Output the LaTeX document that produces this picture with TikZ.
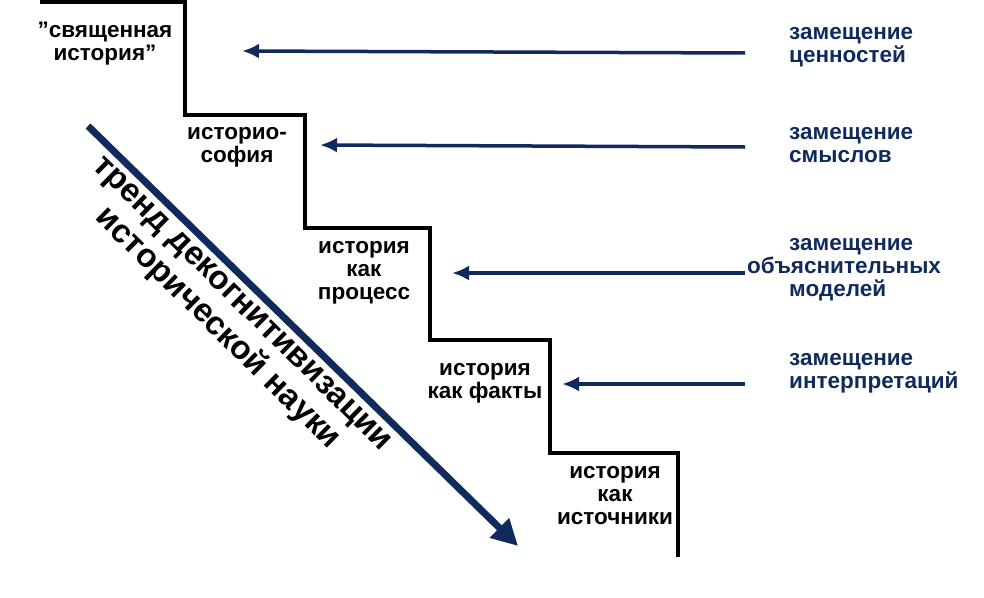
\documentclass[tikz,border=0pt]{standalone}
\usepackage{fontspec}
\setmainfont{Liberation Sans}
\usetikzlibrary{arrows.meta}
\definecolor{navy}{HTML}{102A5E}
\begin{document}
\begin{tikzpicture}[x=1pt,y=-1pt,
 lab/.style={font=\bfseries\fontsize{22.5}{23}\selectfont,align=center,inner sep=0pt},
 rlab/.style={font=\bfseries\fontsize{22.5}{23}\selectfont,align=left,inner sep=0pt,text=navy,anchor=west},
 arr/.style={navy,line width=3.5pt,-{Latex[length=17pt,width=15pt]}}]
\useasboundingbox (0,0) rectangle (984,597);
\draw[line width=3.5pt] (40,2) -- (185,2) -- (185,115) -- (305,115) -- (305,228) -- (430,228) -- (430,340) -- (550,340) -- (550,453) -- (678,453) -- (678,557);
\node[lab] (l1) at (105,44) {\char"22 священная\\история\char"22};
\node[lab] (l2) at (237,147) {историо-\\софия};
\node[lab] (l3) at (364,273) {история\\как\\процесс};
\node[lab] (l4) at (485,383) {история\\как факты};
\node[lab] (l5) at (615,496) {история\\как\\источники};
\node[rlab] (r1) at (789,47) {замещение\\ценностей};
\node[rlab] (r2) at (789,145) {замещение\\смыслов};
\node[rlab] (r3) at (747,270) {\hspace*{42pt}замещение\\объяснительных\\\hspace*{42pt}моделей};
\node[rlab] (r4) at (789,373) {замещение\\интерпретаций};
\coordinate (a1s) at (745,53); \coordinate (a1e) at (242,51);
\coordinate (a2s) at (745,147); \coordinate (a2e) at (320,145);
\coordinate (a3s) at (745,273); \coordinate (a3e) at (452,273);
\coordinate (a4s) at (745,384); \coordinate (a4e) at (562,384);
\draw[arr] (a1s) -- (a1e);
\draw[arr] (a2s) -- (a2e);
\draw[arr] (a3s) -- (a3e);
\draw[arr] (a4s) -- (a4e);
\coordinate (ds) at (88,126); \coordinate (de) at (518,546);
\draw[navy,line width=7pt,-{Triangle[length=26pt,width=26pt]}] (ds) -- (de);
\node[font=\bfseries\fontsize{33}{35}\selectfont,align=center,rotate=-44.5,inner sep=0pt] (trend) at (228,318) {тренд декогнитивизации\\исторической науки};
\end{tikzpicture}
\end{document}
